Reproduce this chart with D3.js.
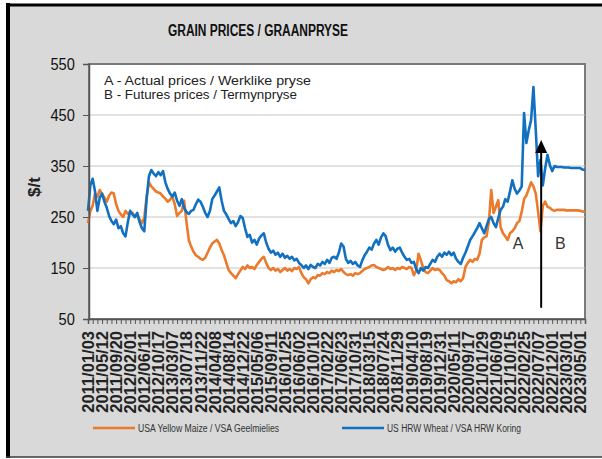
<!DOCTYPE html>
<meta charset="utf-8">
<style>
  body { margin: 0; background: #fff; }
  text { font-family: "Liberation Sans", Arial, sans-serif; }
</style>
<body>
<script src="https://cdn.jsdelivr.net/npm/d3@7"></script>
<script>
// x-axis category labels (one every 6 samples)
var dateLabels = ["2011/01/03","2011/05/12","2011/09/20","2012/02/01","2012/06/11","2012/10/17",
  "2013/03/07","2013/07/18","2013/11/22","2014/04/08","2014/08/14","2014/12/22","2015/05/06",
  "2015/09/11","2016/01/25","2016/06/02","2016/10/10","2017/02/22","2017/06/23","2017/10/31",
  "2018/03/15","2018/07/24","2018/11/29","2019/04/10","2019/08/19","2019/12/31","2020/05/11",
  "2020/09/17","2021/01/29","2021/06/09","2021/10/15","2022/02/25","2022/07/07","2022/12/01",
  "2023/03/01","2023/05/01"];

// US HRW wheat, $/t
var wheat = [262,312,325,300,262,288,296,280,268,252,242,236,245,228,232,218,212,240,262,255,
  250,258,240,228,222,285,330,342,335,330,338,332,340,318,305,296,290,298,282,272,
  285,268,260,256,262,264,275,284,280,270,258,250,262,285,292,300,308,282,262,255,
  246,238,242,232,240,252,248,228,211,215,200,205,196,208,214,218,200,188,180,184,
  176,180,172,178,170,174,168,172,165,168,160,156,150,155,148,156,152,150,158,155,
  162,158,166,160,170,172,168,180,198,192,168,160,164,158,162,155,152,165,175,182,
  190,186,198,205,196,210,218,212,195,185,190,182,188,190,180,172,166,168,160,162,
  148,140,150,145,152,150,158,166,162,172,178,172,180,176,182,175,180,168,162,158,
  170,180,192,205,212,220,228,238,228,218,232,246,250,238,230,248,264,270,285,280,
  300,322,305,296,302,310,454,395,420,440,505,420,330,362,312,345,372,352,340,350,
  348,348,348,347,347,347,346,346,346,346,346,343,342];

// USA yellow maize, $/t
var maize = [238,262,272,296,290,303,295,288,280,292,298,296,275,262,255,250,262,256,260,258,
  250,254,245,238,248,290,318,310,305,300,298,296,290,286,280,284,290,275,252,258,
  262,282,240,205,192,182,175,172,168,166,170,180,190,198,202,205,198,185,175,160,
  146,140,135,130,138,145,152,148,155,150,152,148,156,162,168,172,160,150,146,150,
  145,148,142,146,150,145,148,144,150,148,152,140,132,128,120,128,132,130,136,135,
  140,138,142,140,145,142,146,144,148,142,138,136,138,135,140,138,140,144,148,150,
  152,155,156,152,150,148,146,148,152,148,150,146,150,148,152,150,148,152,150,136,
  145,178,165,150,142,140,145,150,146,148,146,140,135,126,124,120,124,122,128,124,
  130,152,160,166,162,168,166,178,205,210,212,240,303,258,270,283,230,218,212,205,
  218,222,228,238,242,260,285,292,305,318,310,296,260,222,272,280,270,268,264,262,
  264,264,264,264,263,263,263,263,263,263,262,261,260];

var yTicks = [50, 150, 250, 350, 450, 550];
var seriesNames = ["USA Yellow Maize / VSA Geelmielies", "US HRW Wheat / VSA HRW Koring"];
var seriesColors = ["#ec7a2c", "#1170c0"];
var notes = ["A - Actual prices / Werklike pryse", "B - Futures prices / Termynpryse"];
// split between actual and futures: sample index, arrow from/to ($/t)
var splitAt = 193.3, arrowFrom = 72, arrowTo = 401;

var W = 602, H = 459;
var svg = d3.select("body").append("svg")
    .attr("width", W)
    .attr("height", H);

// outer frame
svg.append("rect").attr("x", 8).attr("y", 5).attr("width", W - 8).attr("height", 452)
    .attr("fill", "#d9d9d9");
svg.append("line").attr("x1", 8).attr("x2", 8).attr("y1", 3).attr("y2", 458)
    .attr("stroke", "#000").attr("stroke-width", 4);
svg.append("line").attr("x1", 6).attr("x2", W).attr("y1", 5).attr("y2", 5)
    .attr("stroke", "#000").attr("stroke-width", 3);
svg.append("line").attr("x1", 6).attr("x2", W).attr("y1", 457).attr("y2", 457)
    .attr("stroke", "#3a3a3a").attr("stroke-width", 1.5);

var plotL = 89, plotR = 585, plotT = 64, plotB = 319;

var x = d3.scaleLinear().domain([0, wheat.length - 1]).range([plotL - 1, plotR]);
var y = d3.scaleLinear().domain([50, 550]).range([plotB, plotT]);

svg.append("rect").attr("x", plotL).attr("y", plotT)
    .attr("width", plotR - plotL).attr("height", plotB - plotT)
    .attr("fill", "#fff").attr("stroke", "#7a7a7a").attr("stroke-width", 2);

// gridlines
svg.append("g").selectAll("line").data(yTicks.slice(1, -1)).enter().append("line")
    .attr("x1", plotL).attr("x2", plotR)
    .attr("y1", function(d) { return y(d); }).attr("y2", function(d) { return y(d); })
    .attr("stroke", "#c6c6c6").attr("stroke-width", 1.2);

var line = d3.line()
    .x(function(d, i) { return x(i); })
    .y(function(d) { return y(d); });

[maize, wheat].forEach(function(s, i) {
  svg.append("path").datum(s)
      .attr("d", line)
      .attr("fill", "none")
      .attr("stroke", seriesColors[i])
      .attr("stroke-width", 2.6)
      .attr("stroke-linejoin", "round");
});

// axes
var yAxis = svg.append("g").attr("transform", "translate(" + plotL + ",0)")
    .call(d3.axisLeft(y).tickValues(yTicks).tickSize(6).tickPadding(0));
yAxis.select(".domain").attr("stroke", "#555").attr("stroke-width", 1.5);
yAxis.selectAll("line").attr("stroke", "#555");
yAxis.selectAll("text")
    .attr("x", -16.5)
    .attr("transform", "scale(0.86,1)")
    .attr("font-size", 17).attr("fill", "#111");

var xAxis = svg.append("g").attr("transform", "translate(0," + plotB + ")")
    .call(d3.axisBottom(x).tickValues(d3.range(0, wheat.length, 2)).tickSize(5).tickFormat(""));
xAxis.select(".domain").attr("stroke", "#555").attr("stroke-width", 1.5);
xAxis.selectAll("line").attr("stroke", "#555");

svg.append("g").selectAll("text").data(dateLabels).enter().append("text")
    .attr("transform", function(d, i) {
      return "translate(" + (x(i * 6) + 6) + "," + (plotB + 12) + ") rotate(-90)";
    })
    .attr("text-anchor", "end")
    .attr("font-size", 16.5)
    .attr("font-weight", "bold")
    .attr("fill", "#222")
    .text(function(d) { return d; });

// title and axis title
svg.append("text").attr("x", 168).attr("y", 36)
    .attr("textLength", 180).attr("lengthAdjust", "spacingAndGlyphs")
    .attr("font-size", 16).attr("font-weight", "bold").attr("fill", "#111")
    .text("GRAIN PRICES / GRAANPRYSE");
svg.append("text")
    .attr("transform", "translate(40,187) rotate(-90)")
    .attr("text-anchor", "middle")
    .attr("font-size", 17).attr("font-weight", "bold").attr("fill", "#222")
    .text("$/t");

// notes
var noteWidths = [207, 193];
svg.append("g").selectAll("text").data(notes).enter().append("text")
    .attr("x", 104).attr("y", function(d, i) { return 85 + i * 13.5; })
    .attr("textLength", function(d, i) { return noteWidths[i]; })
    .attr("lengthAdjust", "spacingAndGlyphs")
    .attr("font-size", 13.5).attr("fill", "#222")
    .text(function(d) { return d; });

// arrow at the actual/futures split
svg.append("line")
    .attr("x1", x(splitAt)).attr("x2", x(splitAt))
    .attr("y1", y(arrowFrom)).attr("y2", y(arrowTo) + 12)
    .attr("stroke", "#000").attr("stroke-width", 2);
svg.append("path")
    .attr("d", "M" + x(splitAt) + "," + y(arrowTo) + "l-6,13h12z")
    .attr("fill", "#000");
svg.append("text").attr("x", x(183.5)).attr("y", y(199) + 6)
    .attr("text-anchor", "middle").attr("font-size", 16).attr("fill", "#333").text("A");
svg.append("text").attr("x", x(201.5)).attr("y", y(199) + 6)
    .attr("text-anchor", "middle").attr("font-size", 16).attr("fill", "#333").text("B");

// legend
var legX = [93, 342], legW = [141, 134];
seriesNames.forEach(function(n, i) {
  svg.append("line").attr("x1", legX[i]).attr("x2", legX[i] + 42)
      .attr("y1", 428).attr("y2", 428)
      .attr("stroke", seriesColors[i]).attr("stroke-width", 2.5);
  svg.append("text").attr("x", legX[i] + 45).attr("y", 431.5)
      .attr("textLength", legW[i]).attr("lengthAdjust", "spacingAndGlyphs")
      .attr("font-size", 10).attr("fill", "#333")
      .text(n);
});
</script>
</body>
